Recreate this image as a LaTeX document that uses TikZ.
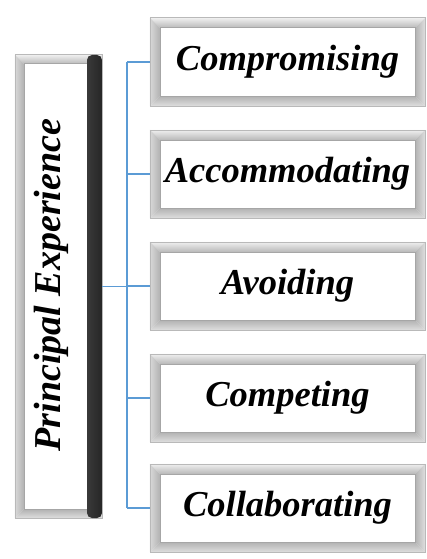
\documentclass[tikz,border=0pt]{standalone}
\usepackage{fontspec}
\setmainfont{Liberation Serif}
\usetikzlibrary{calc}
\definecolor{linkblue}{RGB}{91,155,213}

% bevelled frame round a node: #1 node name, #2 bevel width
\newcommand{\bevelframe}[2]{%
  \shade[top color=gray!12, bottom color=gray!55]
    (#1.north west) -- (#1.north east) -- ($(#1.north east)+(-#2,-#2)$) -- ($(#1.north west)+(#2,-#2)$) -- cycle;
  \shade[left color=gray!30, right color=gray!60]
    (#1.north west) -- ($(#1.north west)+(#2,-#2)$) -- ($(#1.south west)+(#2,#2)$) -- (#1.south west) -- cycle;
  \shade[left color=gray!60, right color=gray!25]
    (#1.north east) -- ($(#1.north east)+(-#2,-#2)$) -- ($(#1.south east)+(-#2,#2)$) -- (#1.south east) -- cycle;
  \shade[top color=gray!60, bottom color=gray!25]
    (#1.south west) -- ($(#1.south west)+(#2,#2)$) -- ($(#1.south east)+(-#2,#2)$) -- (#1.south east) -- cycle;
  \draw[gray!55, line width=0.6pt] (#1.north west) rectangle (#1.south east);
  \draw[gray!70, line width=0.6pt] ($(#1.north west)+(#2,-#2)$) rectangle ($(#1.south east)+(-#2,#2)$);
}

\begin{document}
\begin{tikzpicture}[
  x=1pt, y=-1pt,
  stylebox/.style={fill=white, inner sep=0pt, minimum width=275pt, minimum height=88pt},
  styletext/.style={font=\fontsize{36.5}{42}\selectfont\bfseries\itshape},
  link/.style={draw=linkblue, line width=1.4pt}
]
  \useasboundingbox (0,0) rectangle (427,559);

  % left box with the dark edge
  \node[fill=white, inner sep=0pt, minimum width=87pt, minimum height=463pt] (lbox) at (58.5,286.5) {};
  \bevelframe{lbox}{9pt}
  \shade[left color=gray!45!black, right color=black!85, rounded corners=5pt] (87,55) rectangle (102,518);
  \node[rotate=90, font=\fontsize{38}{44}\selectfont\bfseries\itshape] (ltext) at (51,285) {Principal Experience};

  % the five styles
  \foreach \i/\y/\name in {1/62/Compromising, 2/174/Accommodating, 3/286/Avoiding, 4/398/Competing, 5/508/Collaborating} {
    \node[stylebox] (b\i) at (287.5,\y) {};
    \bevelframe{b\i}{10pt}
    \node[styletext] (t\i) at (b\i) {\name};
  }

  % connectors
  \coordinate (trunk) at (127,286.5);
  \draw[link] (lbox.east) -- (trunk);
  \draw[link] (trunk |- b1.west) -- (trunk |- b5.west);
  \foreach \i in {1,...,5}
    \draw[link] (trunk |- b\i.west) -- (b\i.west);
\end{tikzpicture}
\end{document}
